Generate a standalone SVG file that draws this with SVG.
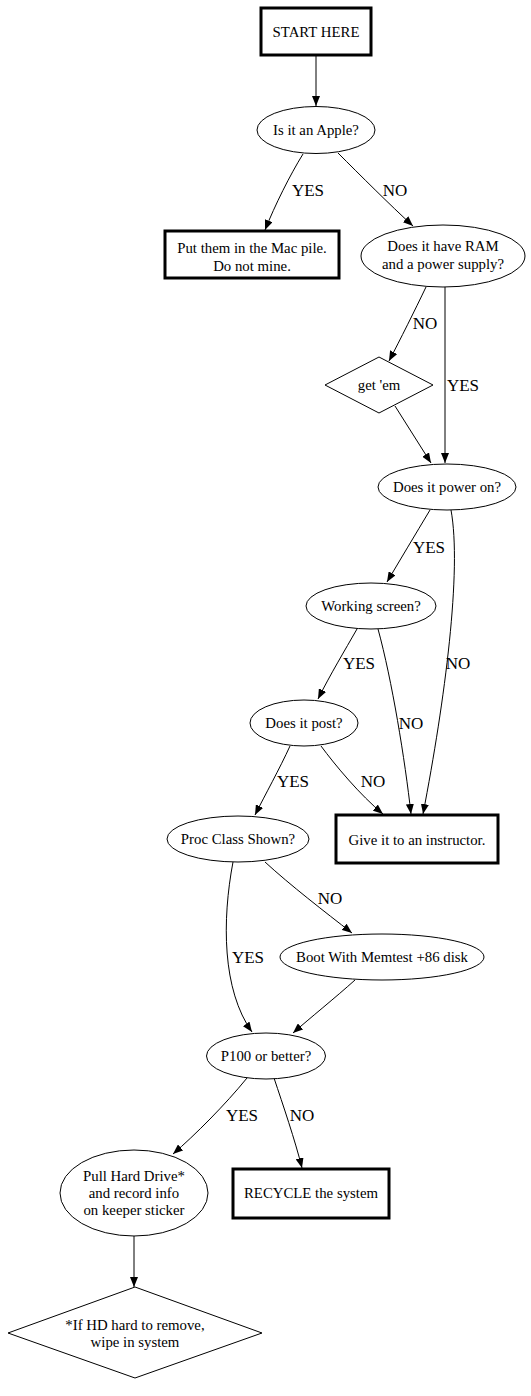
<svg xmlns="http://www.w3.org/2000/svg" width="531" height="1396" viewBox="0 0 531 1396">
<style>
text{font-family:"Liberation Serif","Times New Roman",serif;fill:#000;text-anchor:middle}
.n{font-size:14.8px}
.l{font-size:17px}
.box{fill:#fff;stroke:#000;stroke-width:3}
.sh{fill:#fff;stroke:#000;stroke-width:1}
.e{fill:none;stroke:#000;stroke-width:1;marker-end:url(#ah)}
</style>
<defs>
<marker id="ah" markerUnits="userSpaceOnUse" viewBox="0 0 10 8" markerWidth="10" markerHeight="8" refX="10" refY="4" orient="auto">
<path d="M0,0 L10,4 L0,8 Z" fill="#000"/>
</marker>
</defs>
<rect width="531" height="1396" fill="#fff"/>
<g id="connectors">
<path class="e" d="M316,55 L316,106"/>
<path class="e" d="M303,154 C290,175 275,205 265,230"/>
<path class="e" d="M338,153 C360,175 390,205 413,226"/>
<path class="e" d="M426,287 C415,310 400,340 389,361"/>
<path class="e" d="M445,287 L445,463"/>
<path class="e" d="M395,406 L431,463"/>
<path class="e" d="M430,510 C415,535 400,560 387,582"/>
<path class="e" d="M451,510 C462,570 445,700 423,814"/>
<path class="e" d="M357,629 C345,650 330,675 318,699"/>
<path class="e" d="M378,629 C392,680 405,760 411,814"/>
<path class="e" d="M290,746 C280,768 265,795 255,815"/>
<path class="e" d="M321,746 C335,765 360,795 383,814"/>
<path class="e" d="M233,862 C222,920 222,990 252,1032"/>
<path class="e" d="M265,862 C290,885 325,912 352,933"/>
<path class="e" d="M355,980 C335,998 310,1018 293,1033"/>
<path class="e" d="M247,1078 C225,1105 195,1135 173,1154"/>
<path class="e" d="M274,1078 C283,1105 295,1140 302,1168"/>
<path class="e" d="M134,1236 L134,1287"/>
<text class="l" x="308" y="196">YES</text>
<text class="l" x="395" y="196">NO</text>
<text class="l" x="425" y="329">NO</text>
<text class="l" x="463" y="391">YES</text>
<text class="l" x="429" y="553">YES</text>
<text class="l" x="458" y="669">NO</text>
<text class="l" x="359" y="669">YES</text>
<text class="l" x="411" y="729">NO</text>
<text class="l" x="293" y="787">YES</text>
<text class="l" x="373" y="787">NO</text>
<text class="l" x="330" y="904">NO</text>
<text class="l" x="248" y="963">YES</text>
<text class="l" x="242" y="1121">YES</text>
<text class="l" x="302" y="1121">NO</text>
</g>
<g id="start"><rect class="box" x="261" y="8" width="110" height="47"/><text class="n" x="316" y="37">START HERE</text></g>
<g id="apple"><ellipse class="sh" cx="316" cy="130" rx="59" ry="23.5"/><text class="n" x="316" y="135">Is it an Apple?</text></g>
<g id="mac"><rect class="box" x="165" y="231" width="174" height="47"/><text class="n" x="252" y="253">Put them in the Mac pile.</text><text class="n" x="252" y="271">Do not mine.</text></g>
<g id="ram"><ellipse class="sh" cx="443" cy="256" rx="82" ry="31"/><text class="n" x="443" y="251">Does it have RAM</text><text class="n" x="443" y="269">and a power supply?</text></g>
<g id="getem"><polygon class="sh" points="379,357 433,385 379,413 325,385"/><text class="n" x="379" y="390">get 'em</text></g>
<g id="power"><ellipse class="sh" cx="447" cy="487" rx="69" ry="23"/><text class="n" x="447" y="492">Does it power on?</text></g>
<g id="screen"><ellipse class="sh" cx="371" cy="606" rx="65" ry="23"/><text class="n" x="371" y="611">Working screen?</text></g>
<g id="post"><ellipse class="sh" cx="304" cy="723" rx="54" ry="23"/><text class="n" x="304" y="728">Does it post?</text></g>
<g id="instructor"><rect class="box" x="336" y="815" width="162" height="48"/><text class="n" x="417" y="845">Give it to an instructor.</text></g>
<g id="proc"><ellipse class="sh" cx="238" cy="839" rx="71" ry="23"/><text class="n" x="238" y="844">Proc Class Shown?</text></g>
<g id="boot"><ellipse class="sh" cx="382" cy="957" rx="102" ry="23"/><text class="n" x="382" y="962">Boot With Memtest +86 disk</text></g>
<g id="p100"><ellipse class="sh" cx="266" cy="1056" rx="59.5" ry="23"/><text class="n" x="266" y="1061">P100 or better?</text></g>
<g id="pull"><ellipse class="sh" cx="134" cy="1193" rx="74" ry="43"/><text class="n" x="134" y="1181">Pull Hard Drive*</text><text class="n" x="134" y="1198">and record info</text><text class="n" x="134" y="1215">on keeper sticker</text></g>
<g id="recycle"><rect class="box" x="233" y="1169" width="156" height="49"/><text class="n" x="311" y="1198">RECYCLE the system</text></g>
<g id="wipe"><polygon class="sh" points="135,1287 262,1333 135,1378 8,1333"/><text class="n" x="135" y="1330">*If HD hard to remove,</text><text class="n" x="135" y="1347">wipe in system</text></g>
</svg>
